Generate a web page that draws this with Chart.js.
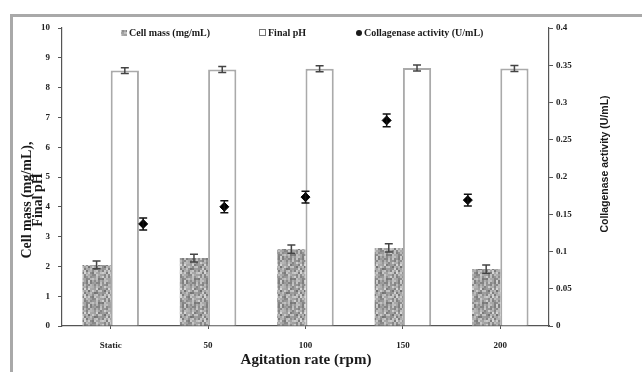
<!DOCTYPE html>
<html>
<head>
<meta charset="utf-8">
<script src="https://cdn.jsdelivr.net/npm/chart.js@4.4.0/dist/chart.umd.min.js"></script>
<style>
html, body { margin: 0; padding: 0; background: #fff; overflow: hidden; }
#wrap { position: relative; width: 642px; height: 372px; }
#wrap canvas { position: absolute; left: 0; top: 0; }
</style>
</head>
<body>
<div id="wrap">
  <canvas id="chart" width="642" height="372"></canvas>
  <canvas id="points" width="642" height="372"></canvas>
</div>
<script>
// data
const categories = ['Static', '50', '100', '150', '200'];
const cellMass = [2.05, 2.28, 2.58, 2.62, 1.91];
const cellMassErr = [0.13, 0.13, 0.14, 0.14, 0.14];
const finalPH = [8.57, 8.61, 8.63, 8.66, 8.64];
const finalPHErr = [0.10, 0.10, 0.10, 0.10, 0.10];
const collagenase = [0.137, 0.160, 0.173, 0.276, 0.169];
const collagenaseErr = [0.008, 0.008, 0.008, 0.0085, 0.008];
const leftTicks = [0, 1, 2, 3, 4, 5, 6, 7, 8, 9, 10];
const rightTicks = ['0', '0.05', '0.1', '0.15', '0.2', '0.25', '0.3', '0.35', '0.4'];

const serif = "'Liberation Serif', 'Times New Roman', serif";

// granite-like fill for the cell mass bars (fixed integer hash, no randomness)
function granite() {
  const n = 12, cell = 2;
  const c = document.createElement('canvas');
  c.width = n * cell; c.height = n * cell;
  const g = c.getContext('2d');
  for (let i = 0; i < n; i++) {
    for (let j = 0; j < n; j++) {
      let t = Math.imul(i * 31 + j * 17 + 7, 2654435761);
      t ^= t >>> 13;
      t = Math.imul(t, 1274126177);
      t ^= t >>> 16;
      const v = 115 + ((t >>> 0) % 100);
      g.fillStyle = `rgb(${v},${v},${v})`;
      g.fillRect(i * cell, j * cell, cell, cell);
    }
  }
  return g.createPattern(c, 'repeat');
}
const cellPattern = granite();

// the activity points sit on their own 0..6 x axis (as excel drew them),
// so they go in a second chart laid over the first one
const pointX = categories.map((c, i) => i + 1);

// same plot box for both charts
const box = { left: 62, right: 93, top: 28, bottom: 46 };

const errorBars = {
  id: 'errorBars',
  afterDatasetsDraw(chart) {
    const ctx = chart.ctx;
    chart.data.datasets.forEach((ds, di) => {
      if (!ds.errors) return;
      const meta = chart.getDatasetMeta(di);
      const ys = chart.scales[ds.yAxisID];
      meta.data.forEach((el, i) => {
        const v = ds.values[i], e = ds.errors[i];
        const top = ys.getPixelForValue(v + e);
        const bot = ys.getPixelForValue(v - e);
        const x = el.x;
        const w = ds.capWidth;
        ctx.save();
        ctx.strokeStyle = ds.errColor;
        ctx.lineWidth = 1.5;
        ctx.beginPath();
        ctx.moveTo(x, top); ctx.lineTo(x, bot);
        ctx.moveTo(x - w, top); ctx.lineTo(x + w, top);
        ctx.moveTo(x - w, bot); ctx.lineTo(x + w, bot);
        ctx.stroke();
        ctx.restore();
      });
    });
  }
};

const decorations = {
  id: 'decorations',
  beforeDraw(chart) {
    const ctx = chart.ctx;
    ctx.save();
    ctx.fillStyle = '#fff';
    ctx.fillRect(0, 0, chart.width, chart.height);
    ctx.strokeStyle = '#a9a9a9';
    ctx.lineWidth = 3;
    ctx.beginPath();
    ctx.moveTo(11.5, chart.height);
    ctx.lineTo(11.5, 15.5);
    ctx.lineTo(chart.width, 15.5);
    ctx.stroke();
    ctx.restore();
  },
  afterDraw(chart) {
    const ctx = chart.ctx;
    ctx.save();
    ctx.fillStyle = '#1a1a1a';
    ctx.textBaseline = 'middle';

    // left axis title
    ctx.save();
    ctx.translate(27, 200);
    ctx.rotate(-Math.PI / 2);
    ctx.textAlign = 'center';
    ctx.font = 'bold 14px ' + serif;
    ctx.fillText('Cell mass (mg/mL),', 0, 0);
    ctx.fillText('Final pH', 0, 11.5);
    ctx.restore();

    // right axis title, reads bottom to top
    ctx.save();
    ctx.translate(605, 164);
    ctx.rotate(-Math.PI / 2);
    ctx.textAlign = 'center';
    ctx.font = "bold 10.5px 'Liberation Sans', sans-serif";
    ctx.fillText('Collagenase activity (U/mL)', 0, 0);
    ctx.restore();

    // x axis title
    ctx.textAlign = 'center';
    ctx.font = 'bold 15px ' + serif;
    ctx.fillText('Agitation rate (rpm)', 306, 360);

    // legend
    const ly = 33;
    ctx.font = 'bold 10px ' + serif;
    ctx.textAlign = 'left';
    ctx.fillStyle = cellPattern;
    ctx.fillRect(121, ly - 3, 6, 6);
    ctx.fillStyle = '#1a1a1a';
    ctx.fillText(chart.data.datasets[0].label, 129, ly);
    ctx.strokeStyle = '#777';
    ctx.lineWidth = 1;
    ctx.strokeRect(259.5, ly - 3.5, 6, 6);
    ctx.fillText(chart.data.datasets[1].label, 268, ly);
    ctx.beginPath();
    ctx.arc(359, ly, 3, 0, Math.PI * 2);
    ctx.fill();
    ctx.fillText('Collagenase activity (U/mL)', 364, ly);
    ctx.restore();
  }
};

const tickFont = { family: serif, weight: 'bold', size: 9 };
const axisColor = '#555';

new Chart(document.getElementById('chart'), {
  type: 'bar',
  data: {
    labels: categories,
    datasets: [
      {
        label: 'Cell mass (mg/mL)',
        data: cellMass,
        values: cellMass,
        errors: cellMassErr,
        errColor: '#444',
        capWidth: 4,
        yAxisID: 'y',
        backgroundColor: cellPattern,
        borderWidth: 0,
        categoryPercentage: 0.58,
        barPercentage: 1
      },
      {
        label: 'Final pH',
        data: finalPH,
        values: finalPH,
        errors: finalPHErr,
        errColor: '#444',
        capWidth: 4,
        yAxisID: 'y',
        backgroundColor: '#fff',
        borderColor: '#aaa',
        borderWidth: { top: 2, left: 2, right: 2, bottom: 0 },
        borderSkipped: 'bottom',
        categoryPercentage: 0.58,
        barPercentage: 1
      }
    ]
  },
  options: {
    responsive: false,
    animation: false,
    devicePixelRatio: 1,
    layout: { padding: { top: box.top, left: 0, right: 0, bottom: 0 } },
    plugins: { legend: { display: false }, tooltip: { enabled: false } },
    scales: {
      x: {
        type: 'category',
        offset: true,
        grid: { offset: false, drawOnChartArea: false, tickLength: 3, color: axisColor },
        border: { color: axisColor, width: 1.2 },
        ticks: { font: tickFont, color: '#222', padding: 11, maxRotation: 0 },
        afterFit(s) { s.height = box.bottom; }
      },
      y: {
        position: 'left',
        min: 0,
        max: 10,
        afterBuildTicks(s) { s.ticks = leftTicks.map(v => ({ value: v })); },
        grid: { drawOnChartArea: false, tickLength: 4, color: axisColor },
        border: { color: axisColor, width: 1.2 },
        ticks: { font: tickFont, color: '#222', padding: 8 },
        afterFit(s) { s.width = box.left; }
      },
      y2: {
        position: 'right',
        min: 0,
        max: 0.4,
        afterBuildTicks(s) { s.ticks = rightTicks.map(v => ({ value: parseFloat(v) })); },
        grid: { drawOnChartArea: false, tickLength: 4, color: axisColor },
        border: { color: axisColor, width: 1.2 },
        ticks: {
          font: tickFont,
          color: '#222',
          padding: 3,
          callback: (v, i) => rightTicks[i]
        },
        afterFit(s) { s.width = box.right; }
      }
    }
  },
  plugins: [decorations, errorBars]
});

// overlay: collagenase activity on the secondary axis
new Chart(document.getElementById('points'), {
  type: 'scatter',
  data: {
    datasets: [{
      label: 'Collagenase activity (U/mL)',
      data: collagenase.map((v, i) => ({ x: pointX[i], y: v })),
      values: collagenase,
      errors: collagenaseErr,
      errColor: '#111',
      capWidth: 4,
      yAxisID: 'y2',
      xAxisID: 'xs',
      pointStyle: 'rectRot',
      pointRadius: 4.5,
      backgroundColor: '#000',
      borderColor: '#000'
    }]
  },
  options: {
    responsive: false,
    animation: false,
    devicePixelRatio: 1,
    layout: { padding: box },
    plugins: { legend: { display: false }, tooltip: { enabled: false } },
    scales: {
      xs: { type: 'linear', display: false, offset: false, min: 0, max: categories.length + 1 },
      y2: { type: 'linear', display: false, min: 0, max: 0.4 }
    }
  },
  plugins: [errorBars]
});
</script>
</body>
</html>
